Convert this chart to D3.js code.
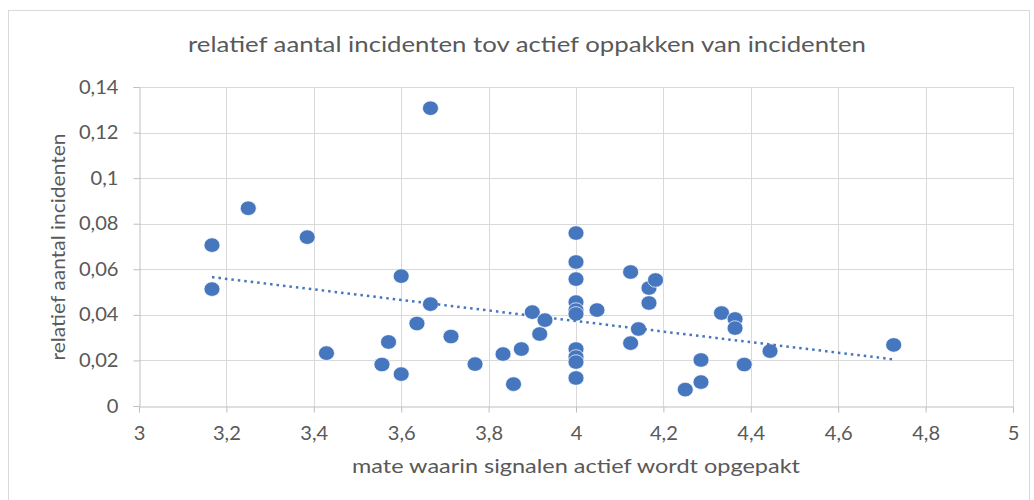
<!DOCTYPE html>
<html>
<head>
<meta charset="utf-8">
<script src="https://cdn.jsdelivr.net/npm/d3@7"></script>
<style>
  body { margin: 0; background: #fff; }
  text { font-family: Lato, "Noto Sans", sans-serif; }
</style>
</head>
<body>
<div id="chart"></div>
<script>
// scores (x) en relatief aantal incidenten (y)
const xValues = [3.167, 3.167, 3.25, 3.385, 3.429, 3.556, 3.571, 3.6, 3.6, 3.636,
  3.667, 3.667, 3.714, 3.769, 3.833, 3.857, 3.875, 3.9, 3.917, 3.929,
  4, 4, 4, 4, 4, 4, 4, 4, 4, 4,
  4.048, 4.125, 4.125, 4.143, 4.167, 4.167, 4.182, 4.25, 4.286, 4.286,
  4.333, 4.364, 4.364, 4.385, 4.444, 4.727];
const yValues = [0.0706, 0.0513, 0.0868, 0.0741, 0.0232, 0.0182, 0.0281, 0.0570, 0.0140, 0.0362,
  0.1307, 0.0447, 0.0305, 0.0184, 0.0228, 0.0096, 0.0250, 0.0412, 0.0316, 0.0377,
  0.0759, 0.0632, 0.0557, 0.0456, 0.0421, 0.0404, 0.0250, 0.0215, 0.0193, 0.0123,
  0.0421, 0.0588, 0.0276, 0.0338, 0.0518, 0.0452, 0.0553, 0.0072, 0.0202, 0.0105,
  0.0408, 0.0382, 0.0342, 0.0182, 0.0241, 0.0268];
const xTicks = [3, 3.2, 3.4, 3.6, 3.8, 4, 4.2, 4.4, 4.6, 4.8, 5];
const yTicks = [0, 0.02, 0.04, 0.06, 0.08, 0.1, 0.12, 0.14];

const title = "relatief aantal incidenten tov actief oppakken van incidenten";
const xTitle = "mate waarin signalen actief wordt opgepakt";
const yTitle = "relatief aantal incidenten";

const width = 1034, height = 500;
const plot = { left: 139, right: 1013, top: 87, bottom: 406 };
const dotColor = "#4677be";
const labelColor = "#595959";

const fmt = d => String(d).replace(".", ",");

// the original screenshot is a bit wider than tall, so text is stretched
function stretch(sel, k) {
    sel.each(function() {
        const w = this.getComputedTextLength();
        d3.select(this)
            .attr("textLength", w * k)
            .attr("lengthAdjust", "spacingAndGlyphs");
    });
}

const svg = d3.select("#chart").append("svg")
    .attr("width", width)
    .attr("height", height);

// chart border
svg.append("rect")
    .attr("x", 8.5).attr("y", 10.5)
    .attr("width", 1021).attr("height", 500)
    .attr("fill", "#fff")
    .attr("stroke", "#d9d9d9");

const x = d3.scaleLinear().domain([3, 5]).range([plot.left, plot.right]);
const y = d3.scaleLinear().domain([0, 0.14]).range([plot.bottom, plot.top]);

// gridlines
svg.append("g")
    .selectAll("line")
    .data(yTicks.slice(1))
    .join("line")
    .attr("x1", plot.left).attr("x2", plot.right)
    .attr("y1", d => Math.round(y(d)) + 0.5).attr("y2", d => Math.round(y(d)) + 0.5)
    .attr("stroke", "#d9d9d9");

svg.append("g")
    .selectAll("line")
    .data(xTicks.slice(1))
    .join("line")
    .attr("x1", d => Math.round(x(d)) + 0.5).attr("x2", d => Math.round(x(d)) + 0.5)
    .attr("y1", plot.top).attr("y2", plot.bottom)
    .attr("stroke", "#d9d9d9");

// axes
const xAxis = svg.append("g")
    .attr("transform", `translate(0,${plot.bottom + 0.5})`)
    .call(d3.axisBottom(x).tickValues(xTicks).tickFormat(fmt).tickSize(6).tickPadding(14));

const yAxis = svg.append("g")
    .attr("transform", `translate(${plot.left + 0.5},0)`)
    .call(d3.axisLeft(y).tickValues(yTicks).tickFormat(fmt).tickSize(6).tickPadding(15));

[xAxis, yAxis].forEach(a => {
    a.select(".domain").attr("stroke", "#bfbfbf");
    a.selectAll(".tick line").attr("stroke", "#bfbfbf");
    a.selectAll(".tick text")
        .attr("fill", labelColor)
        .style("font-size", "19px")
        .style("font-family", "Lato, sans-serif")
        .call(stretch, 1.06);
});

// trendline (least squares)
const n = xValues.length;
const mx = d3.mean(xValues), my = d3.mean(yValues);
let sxy = 0, sxx = 0;
for (let i = 0; i < n; i++) {
    sxy += (xValues[i] - mx) * (yValues[i] - my);
    sxx += (xValues[i] - mx) ** 2;
}
const slope = sxy / sxx;
const intercept = my - slope * mx;
const xMin = d3.min(xValues), xMax = d3.max(xValues);

// points
const points = xValues.map((v, i) => ({ x: v, y: yValues[i] }));
svg.append("g")
    .selectAll("ellipse")
    .data(points)
    .join("ellipse")
    .attr("cx", d => x(d.x))
    .attr("cy", d => y(d.y))
    .attr("rx", 8)
    .attr("ry", 7.3)
    .attr("fill", dotColor)
    .attr("stroke", "#fff")
    .attr("stroke-width", 0.7);

svg.append("line")
    .attr("x1", x(xMin)).attr("y1", y(intercept + slope * xMin))
    .attr("x2", x(xMax)).attr("y2", y(intercept + slope * xMax))
    .attr("stroke", dotColor)
    .attr("stroke-width", 2.5)
    .attr("stroke-dasharray", "2.5 4");

// titles
svg.append("text")
    .attr("x", 527).attr("y", 52)
    .attr("text-anchor", "middle")
    .attr("fill", labelColor)
    .style("font-size", "21px")
    .attr("textLength", 678)
    .attr("lengthAdjust", "spacingAndGlyphs")
    .text(title);

svg.append("text")
    .attr("x", 576).attr("y", 473)
    .attr("text-anchor", "middle")
    .attr("fill", labelColor)
    .style("font-size", "19px")
    .attr("textLength", 448)
    .attr("lengthAdjust", "spacingAndGlyphs")
    .text(xTitle);

svg.append("text")
    .attr("transform", "translate(65,247) rotate(-90)")
    .attr("text-anchor", "middle")
    .attr("fill", labelColor)
    .style("font-size", "19px")
    .attr("textLength", 227)
    .attr("lengthAdjust", "spacingAndGlyphs")
    .text(yTitle);
</script>
</body>
</html>
